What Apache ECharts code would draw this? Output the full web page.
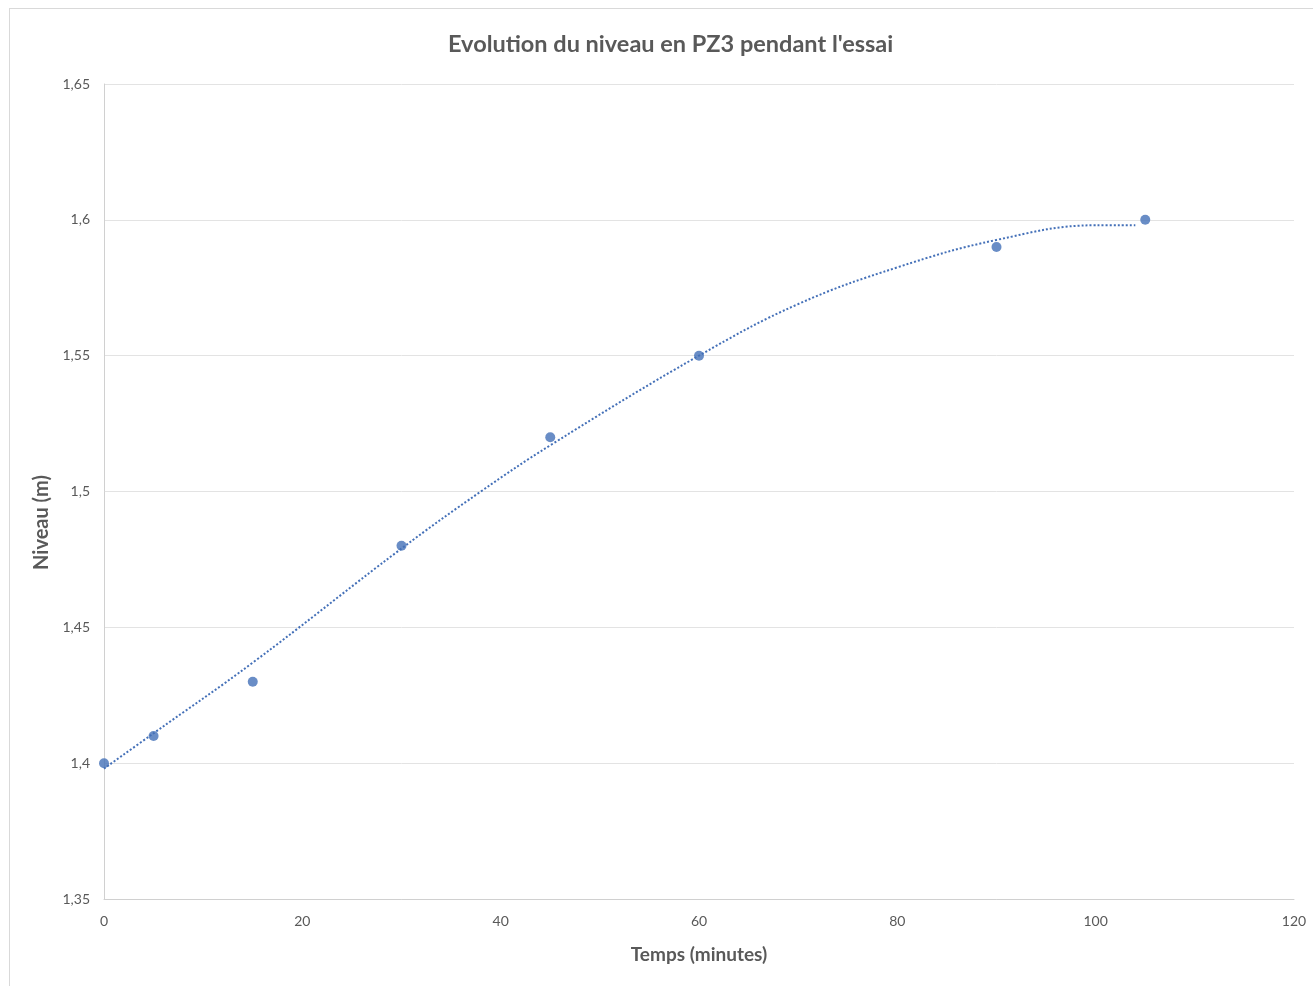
<!DOCTYPE html>
<html>
<head>
<meta charset="utf-8">
<script src="https://cdn.jsdelivr.net/npm/echarts@6/dist/echarts.min.js"></script>
<style>
  html, body { margin: 0; padding: 0; background: #ffffff; }
  #frame { position: absolute; left: 9px; top: 8px; width: 1310px; height: 980px; border-left: 1px solid #d9d9d9; border-top: 1px solid #d9d9d9; box-sizing: border-box; }
  #chart { position: absolute; left: 0; top: 0; width: 1313px; height: 986px; }
</style>
</head>
<body>
<div id="frame"></div>
<div id="chart"></div>
<script>
// Measured points
const timeMin = [0, 5, 15, 30, 45, 60, 90, 105];
const niveau = [1.40, 1.41, 1.43, 1.48, 1.52, 1.55, 1.59, 1.60];
// Trendline
const trendX = [0, 5, 15, 30, 38, 45, 60, 70, 80, 90, 100, 104];
const trendY = [1.398, 1.411, 1.437, 1.479, 1.500, 1.517, 1.550, 1.569, 1.5825, 1.5926, 1.598, 1.598];
// Axis ticks
const xTicks = [0, 20, 40, 60, 80, 100, 120];
const yTicks = [1.35, 1.40, 1.45, 1.50, 1.55, 1.60, 1.65];

const fontFam = 'Lato, "Open Sans", sans-serif';
const blue = '#4470b8';

const chart = echarts.init(document.getElementById('chart'), null, { renderer: 'canvas' });
chart.setOption({
  backgroundColor: 'transparent',
  animation: false,
  title: {
    text: "Evolution du niveau en PZ3 pendant l'essai",
    left: 443,
    top: 27,
    textStyle: { fontFamily: fontFam, fontSize: 23.5, fontWeight: 'bold', color: '#595959' }
  },
  grid: { left: 104, right: 19, top: 84, bottom: 87 },
  xAxis: {
    type: 'value',
    min: xTicks[0],
    max: xTicks[xTicks.length - 1],
    interval: 20,
    name: 'Temps (minutes)',
    nameLocation: 'middle',
    nameGap: 46,
    nameTextStyle: { fontFamily: fontFam, fontSize: 19, fontWeight: 'bold', color: '#595959' },
    axisLine: { show: true, lineStyle: { color: '#d0d0d0', width: 1 } },
    axisTick: { show: false },
    splitLine: { show: false },
    axisLabel: { fontFamily: fontFam, fontSize: 14, color: '#595959', margin: 15 }
  },
  yAxis: {
    type: 'value',
    min: yTicks[0],
    max: yTicks[yTicks.length - 1],
    interval: 0.05,
    name: 'Niveau (m)',
    nameLocation: 'middle',
    nameGap: 49,
    nameTextStyle: { fontFamily: fontFam, fontSize: 20, fontWeight: 'bold', color: '#595959', padding: [0, 62, 0, 0] },
    axisLine: { show: true, lineStyle: { color: '#d0d0d0', width: 1 } },
    axisTick: { show: false },
    splitLine: { show: true, lineStyle: { color: '#e3e3e3', width: 1 } },
    axisLabel: {
      fontFamily: fontFam, fontSize: 14, color: '#595959', margin: 14,
      formatter: v => String(+v.toFixed(2)).replace('.', ',')
    }
  },
  series: [
    {
      name: 'Tendance',
      type: 'line',
      data: trendX.map((x, i) => [x, trendY[i]]),
      smooth: 0.4,
      showSymbol: false,
      symbol: 'none',
      lineStyle: { color: blue, width: 2, type: [2, 2] },
      z: 2
    },
    {
      name: 'Niveau',
      type: 'scatter',
      data: timeMin.map((x, i) => [x, niveau[i]]),
      symbol: 'circle',
      symbolSize: 10,
      itemStyle: { color: blue },
      z: 3
    }
  ]
});
</script>
</body>
</html>
